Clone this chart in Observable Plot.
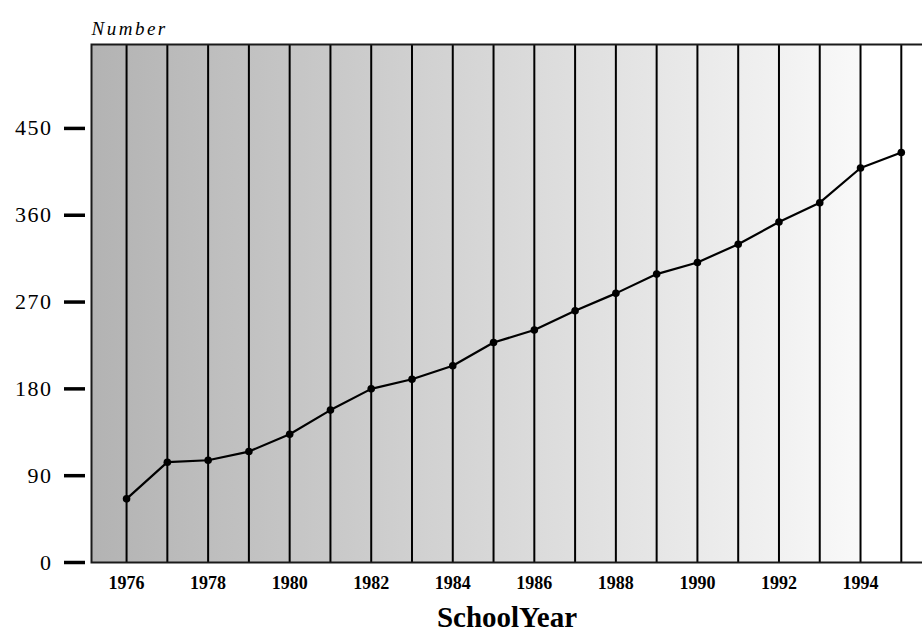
<!DOCTYPE html>
<html><head><meta charset="utf-8">
<script src="https://cdn.jsdelivr.net/npm/d3@7"></script>
<script src="https://cdn.jsdelivr.net/npm/@observablehq/plot@0.6"></script>
<style>body{margin:0;background:#fff}</style>
</head><body><div id="chart"></div>
<script>
const years = [1976,1977,1978,1979,1980,1981,1982,1983,1984,1985,1986,1987,1988,1989,1990,1991,1992,1993,1994,1995];
const counts = [66,104,106,115,133,158,180,190,204,228,241,261,279,299,311,330,353,373,409,425];
const xTickYears = [1976,1978,1980,1982,1984,1986,1988,1990,1992,1994];
const yTicks = [0,90,180,270,360,450];
const yLabel = "Number";
const xLabel = "SchoolYear";

const data = years.map((year, i) => ({year, count: counts[i]}));

const chart = Plot.plot({
  width: 922, height: 636,
  marginLeft: 91, marginRight: 0, marginTop: 44, marginBottom: 74,
  style: {background: "white", fontFamily: "'Liberation Serif', serif", color: "black"},
  x: {domain: [1975.14, 1995.52]},
  y: {domain: [0, 537]},
  marks: [
    Plot.frame({fill: "url(#bgGrad)", stroke: null}),
    Plot.ruleX(years, {stroke: "black", strokeWidth: 2}),
    Plot.frame({stroke: "#1a1a1a", strokeWidth: 2, insetRight: -4}),
    Plot.line(data, {x: "year", y: "count", stroke: "black", strokeWidth: 2.2}),
    Plot.dot(data, {x: "year", y: "count", r: 3.8, fill: "black", stroke: null}),
    Plot.axisY(yTicks, {tickSize: 21, dx: -6, tickPadding: 12, strokeWidth: 3.5, fontSize: 22, label: null}),
    Plot.axisX(xTickYears, {tickSize: 0, tickPadding: 14, fontSize: 18, fontWeight: "bold", tickFormat: "d", label: null}),
    Plot.text([yLabel], {text: d => d, frameAnchor: "top-left", dy: -23, textAnchor: "start", fontStyle: "italic", fontSize: 19}),
    Plot.text([xLabel], {text: d => d, frameAnchor: "bottom", dy: 64, fontSize: 29, fontWeight: "bold"})
  ]
});

const defs = d3.select(chart).insert("defs", ":first-child");
const grad = defs.append("linearGradient").attr("id", "bgGrad")
  .attr("x1", 0).attr("x2", 1).attr("y1", 0).attr("y2", 0);
[[0, "#b3b3b3"], [0.839, "#f2f2f2"], [0.923, "#f9f9f9"], [0.926, "#ffffff"], [1, "#ffffff"]]
  .forEach(([o, c]) => grad.append("stop").attr("offset", o).attr("stop-color", c));

const yTickStrings = yTicks.map(String);
d3.select(chart).selectAll("text").each(function() {
  const t = this.textContent;
  if (t === yLabel) d3.select(this).style("letter-spacing", "2.5px");
  else if (yTickStrings.includes(t)) d3.select(this).style("letter-spacing", "1.5px");
});

document.getElementById("chart").appendChild(chart);
</script>
</body></html>
